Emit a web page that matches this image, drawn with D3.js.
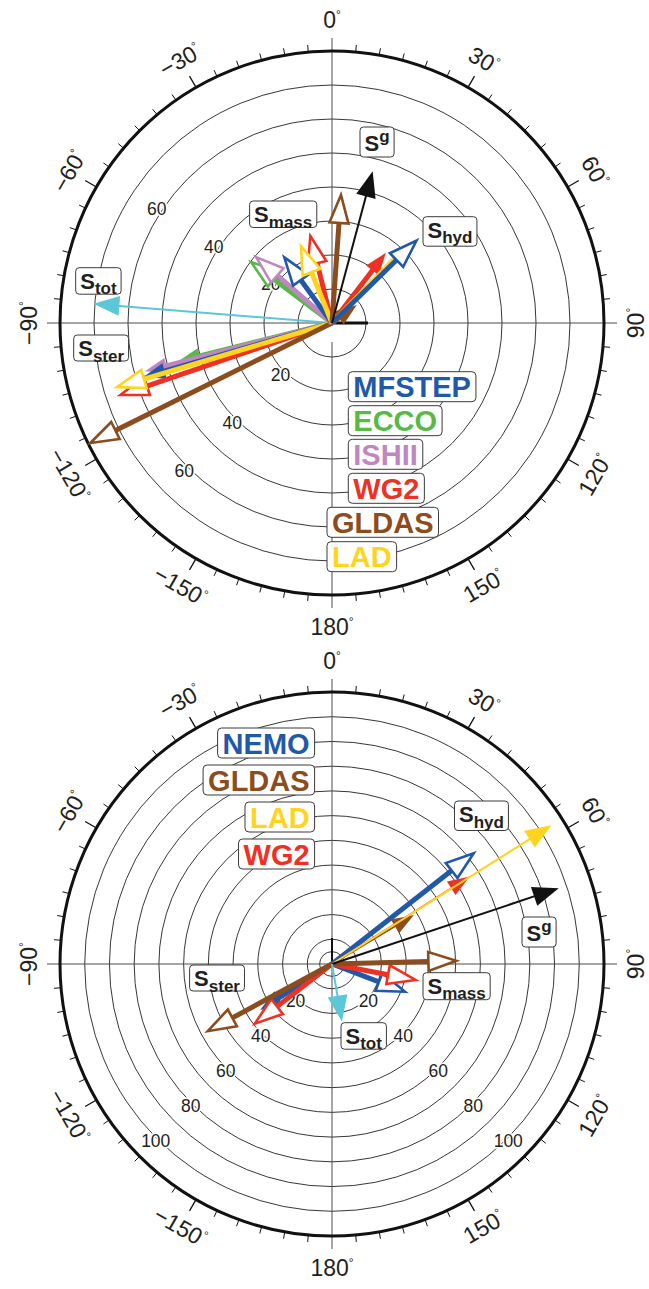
<!DOCTYPE html>
<html>
<head>
<meta charset="utf-8">
<script src="https://cdn.jsdelivr.net/npm/d3@7"></script>
<style>
  html, body { margin: 0; padding: 0; background: #fff; }
  svg { display: block; font-family: "Liberation Sans", Arial, Helvetica, sans-serif; }
</style>
</head>
<body>
<svg id="chart" width="649" height="1289"></svg>
<script>
// Annual-cycle phasor diagrams: amplitude (mm) and phase (degrees, clockwise from north)

// ---------- upper diagram ----------
const upperModels     = ["MFSTEP", "ECCO", "ISHII", "WG2", "GLDAS", "LAD"];
const upperMassAmp    = [25.0, 30.9, 30.7, 27.5, 38.9, 25.5];
const upperMassPhase  = [-36, -53, -49, -14, 4, -22];
const upperSterAmp    = [57.7, 46.6, 56.8, 66.9, 80.5, 67.1];
const upperSterPhase  = [-106, -104, -104.5, -108.8, -116.4, -106.6];
const upperHydAmp     = [35.9, null, null, 26.0, 9.0, 32.9];
const upperHydPhase   = [45.7, null, null, 37.5, 54, 44.2];
const upperGrav       = [46.2, 15];     // S^g  [amplitude, phase]
const upperTot        = [70.4, -85.4];  // S_tot
const upperRings      = [10, 20, 30, 40, 50, 60, 70];
const upperMax        = 80;
const upperRingLabels = [20, 40, 60];

// ---------- lower diagram ----------
const lowerModels     = ["NEMO", "GLDAS", "LAD", "WG2"];
const lowerHydAmp     = [74.3, 38.6, 105.0, 66.0];
const lowerHydPhase   = [52, 59.1, 57.7, 57.6];
const lowerMassAmp    = [33.2, 51.9, null, 36.0];
const lowerMassPhase  = [110.8, 88.5, null, 100.8];
const lowerSterAmp    = [34.5, 58.7, null, 41.0];
const lowerSterPhase  = [-122.6, -118.4, null, -127.7];
const lowerGrav       = [96.7, 71.5];
const lowerTot        = [23.6, 170.2];
const lowerRings      = [5, 10, 20, 30, 40, 50, 60, 70, 80, 90, 100];
const lowerMax        = 110;
const lowerRingLabels = [20, 40, 60, 80, 100];

// azimuth labels round the rim
const azimuthLabels = [0, 30, 60, 90, 120, 150, 180, -150, -120, -90, -60, -30];

// ---------- styling ----------
const colorOf = {
  MFSTEP: "#2158a8", NEMO: "#2158a8", ECCO: "#58b947", ISHII: "#bf86c0",
  WG2: "#ee3124", GLDAS: "#8b4c1e", LAD: "#ffd41f"
};
const INK = "#231f20";
const CYAN = "#5cc7d7";
const R = 272;                       // rim radius in px
const HEAD = {
  open:  { L: 28, hw: 9.5, sw: 2.6, open: true },
  solid: { L: 22, hw: 8 },
  thin:  { L: 26, hw: 10 }
};

const svg = d3.select("#chart");
const rad = d => d * Math.PI / 180;

function arrow(layer, r, amp, phase, color, shaftW, head) {
  if (amp == null) return;
  const a = rad(phase);
  const u = d3.pointRadial(a, 1);
  const n = [-u[1], u[0]];
  const len = r(amp);
  const inset = head.open ? head.sw * 1.5 : 0;
  const t = d3.pointRadial(a, len - inset);
  const b = d3.pointRadial(a, len - inset - head.L);
  if (len - inset > head.L) {
    const e = head.open ? b : d3.pointRadial(a, len - inset - head.L + 3);
    layer.append("line")
      .attr("x1", 0).attr("y1", 0).attr("x2", e[0]).attr("y2", e[1])
      .attr("stroke", color).attr("stroke-width", shaftW);
  }
  const pts = [t,
    [b[0] + n[0] * head.hw, b[1] + n[1] * head.hw],
    [b[0] - n[0] * head.hw, b[1] - n[1] * head.hw]];
  layer.append("polygon")
    .attr("points", pts.map(p => p.join(",")).join(" "))
    .attr("fill", head.open ? "#fff" : color)
    .attr("stroke", head.open ? color : "none")
    .attr("stroke-width", head.sw || 0)
    .attr("stroke-linejoin", "miter");
}

function frame(cx, cy, max, rings, ringLabels, labelAz, labelPad, opts) {
  const g = svg.append("g").attr("transform", `translate(${cx},${cy})`);
  const r = d3.scaleLinear().domain([0, max]).range([0, R]);
  const grid = g.append("g");

  grid.selectAll("circle.ring").data(rings).join("circle")
    .attr("class", "ring").attr("r", d => r(d))
    .attr("fill", "none").attr("stroke", INK).attr("stroke-width", 0.9);

  // crosshair axes
  const ext = R + 13;
  const axisSeg = (a, r0, r1) => {
    const p0 = d3.pointRadial(rad(a), r0), p1 = d3.pointRadial(rad(a), r1);
    grid.append("line").attr("x1", p0[0]).attr("y1", p0[1]).attr("x2", p1[0]).attr("y2", p1[1])
      .attr("stroke", "#4d4d4d").attr("stroke-width", 1);
  };
  axisSeg(0, 0, ext); axisSeg(90, 0, ext); axisSeg(-90, 0, ext);
  axisSeg(180, opts.southGap, ext);

  // rim with 5-degree ticks
  grid.append("circle").attr("r", R).attr("fill", "none").attr("stroke", "#111").attr("stroke-width", 3);
  d3.range(-180, 180, 5).forEach(a => {
    const major = a % 30 === 0;
    if (a % 90 === 0) return;
    const p0 = d3.pointRadial(rad(a), R), p1 = d3.pointRadial(rad(a), R + (major ? 13 : 7));
    grid.append("line").attr("x1", p0[0]).attr("y1", p0[1]).attr("x2", p1[0]).attr("y2", p1[1])
      .attr("stroke", "#111").attr("stroke-width", major ? 1.3 : 1);
  });

  // reference bar
  const rb = d3.pointRadial(rad(opts.barAz), opts.barLen);
  grid.append("line").attr("x1", 0).attr("y1", 0).attr("x2", rb[0]).attr("y2", rb[1])
    .attr("stroke", "#111").attr("stroke-width", opts.barW);

  // azimuth labels
  azimuthLabels.forEach(a => {
    const p = d3.pointRadial(rad(a), 303.5);
    const rot = (a >= -90 && a < 90) ? a : (a >= 90 ? a - 180 : a + 180);
    const txt = g.append("text")
      .attr("transform", `translate(${p[0]},${p[1]}) rotate(${rot})`)
      .attr("text-anchor", "middle").attr("y", 8)
      .attr("font-size", 23).attr("fill", INK);
    txt.append("tspan").text(a < 0 ? "\u2212" + Math.abs(a) : String(a));
    txt.append("tspan").attr("font-size", 12).attr("dy", -9).text("\u00b0");
  });

  // ring value labels
  const lab = g.append("g");
  labelAz.forEach(az => {
    ringLabels.forEach(v => {
      const p = d3.pointRadial(rad(az), r(v) + labelPad);
      lab.append("text").attr("x", p[0]).attr("y", p[1] + 6.3)
        .attr("text-anchor", "middle").attr("font-size", 17.5).attr("fill", INK)
        .attr("stroke", "#fff").attr("stroke-width", 3).attr("paint-order", "stroke")
        .text(v);
    });
  });

  return { g, r, arrows: g.append("g") };
}

function sLabel(x, y, h, sub, sup) {
  const grp = svg.append("g").attr("transform", `translate(${x},${y})`);
  const rect = grp.append("rect");
  const t = grp.append("text").attr("x", 4.5).attr("y", sup ? 23.5 : 21)
    .attr("font-weight", "bold").attr("fill", INK);
  t.append("tspan").attr("font-size", 22).text("S");
  if (sub) t.append("tspan").attr("font-size", 17).attr("dy", 5.5).text(sub);
  if (sup) t.append("tspan").attr("font-size", 17).attr("dy", -9).text(sup);
  const w = t.node().getComputedTextLength();
  rect.attr("width", w + 9).attr("height", h).attr("rx", 3.5)
    .attr("fill", "#fff").attr("stroke", "#3a3a3a").attr("stroke-width", 1);
}

function legendBox(x, y, name, anchorRight) {
  const grp = svg.append("g");
  const rect = grp.append("rect");
  const t = grp.append("text").attr("font-size", 29).attr("font-weight", "bold")
    .attr("fill", colorOf[name]).text(name);
  const w = t.node().getComputedTextLength() + 10;
  const bx = anchorRight ? x - w : x;
  t.attr("x", bx + 5).attr("y", y + 25.5);
  rect.attr("x", bx).attr("y", y).attr("width", w).attr("height", 30).attr("rx", 4)
    .attr("fill", "#fff").attr("stroke", "#3a3a3a").attr("stroke-width", 1);
}

// ================= upper diagram =================
{
  const P = frame(332, 323, upperMax, upperRings, upperRingLabels, [-57, -135], 5,
    { southGap: 19, barAz: 90, barLen: 36, barW: 3 });
  const A = P.arrows, r = P.r;
  const col = i => colorOf[upperModels[i]];

  arrow(A, r, upperTot[0], upperTot[1], CYAN, 2, HEAD.thin);

  const sterHead = [HEAD.solid, HEAD.solid, HEAD.solid, HEAD.open, HEAD.open, HEAD.open];
  [1, 2, 0, 3, 5, 4].forEach(i =>
    arrow(A, r, upperSterAmp[i], upperSterPhase[i], col(i), 5, sterHead[i]));

  [1, 2, 0, 3, 5, 4].forEach(i =>
    arrow(A, r, upperMassAmp[i], upperMassPhase[i], col(i), 5, HEAD.open));

  const hydHead = [HEAD.open, null, null, HEAD.solid, HEAD.solid, HEAD.solid];
  [3, 4, 5, 0].forEach(i =>
    arrow(A, r, upperHydAmp[i], upperHydPhase[i], col(i), 5, hydHead[i]));

  arrow(A, r, upperGrav[0], upperGrav[1], "#111", 2, HEAD.thin);

  sLabel(360, 127, 30, null, "g");
  sLabel(249.6, 201, 26.5, "mass");
  sLabel(423, 216.7, 29.5, "hyd");
  sLabel(75.7, 267.7, 26.5, "tot");
  sLabel(73.7, 335, 26, "ster");

  const legendTops = [371.7, 405.7, 439.3, 473.3, 507.3, 541.7];
  const legendLefts = [348.3, 348.3, 348.3, 348.3, 327, 327];
  upperModels.forEach((m, i) => legendBox(legendLefts[i], legendTops[i], m, false));
}

// ================= lower diagram =================
{
  const P = frame(332, 964, lowerMax, lowerRings, lowerRingLabels, [-135, 135], 2,
    { southGap: 0, barAz: 0, barLen: 26, barW: 2 });
  const A = P.arrows, r = P.r;
  const col = i => colorOf[lowerModels[i]];

  const sterHead = [HEAD.solid, HEAD.open, null, HEAD.open];
  [0, 3, 1].forEach(i =>
    arrow(A, r, lowerSterAmp[i], lowerSterPhase[i], col(i), 5, sterHead[i]));

  [0, 3, 1].forEach(i =>
    arrow(A, r, lowerMassAmp[i], lowerMassPhase[i], col(i), 5, HEAD.open));

  arrow(A, r, lowerHydAmp[0], lowerHydPhase[0], col(0), 5, HEAD.open);
  [1, 3].forEach(i =>
    arrow(A, r, lowerHydAmp[i], lowerHydPhase[i], col(i), 2, HEAD.solid));
  arrow(A, r, lowerHydAmp[2], lowerHydPhase[2], col(2), 2, HEAD.thin);

  arrow(A, r, lowerGrav[0], lowerGrav[1], "#111", 2, HEAD.thin);
  arrow(A, r, lowerTot[0], lowerTot[1], CYAN, 2, HEAD.thin);

  sLabel(454.5, 801, 29.5, "hyd");
  sLabel(522, 917, 30, null, "g");
  sLabel(189.6, 965, 26, "ster");
  sLabel(423, 972.7, 27, "mass");
  sLabel(341, 1022.7, 26.5, "tot");

  const legendTops = [728, 765, 802, 839];
  lowerModels.forEach((m, i) => legendBox(314.6, legendTops[i], m, true));
}
</script>
</body>
</html>
